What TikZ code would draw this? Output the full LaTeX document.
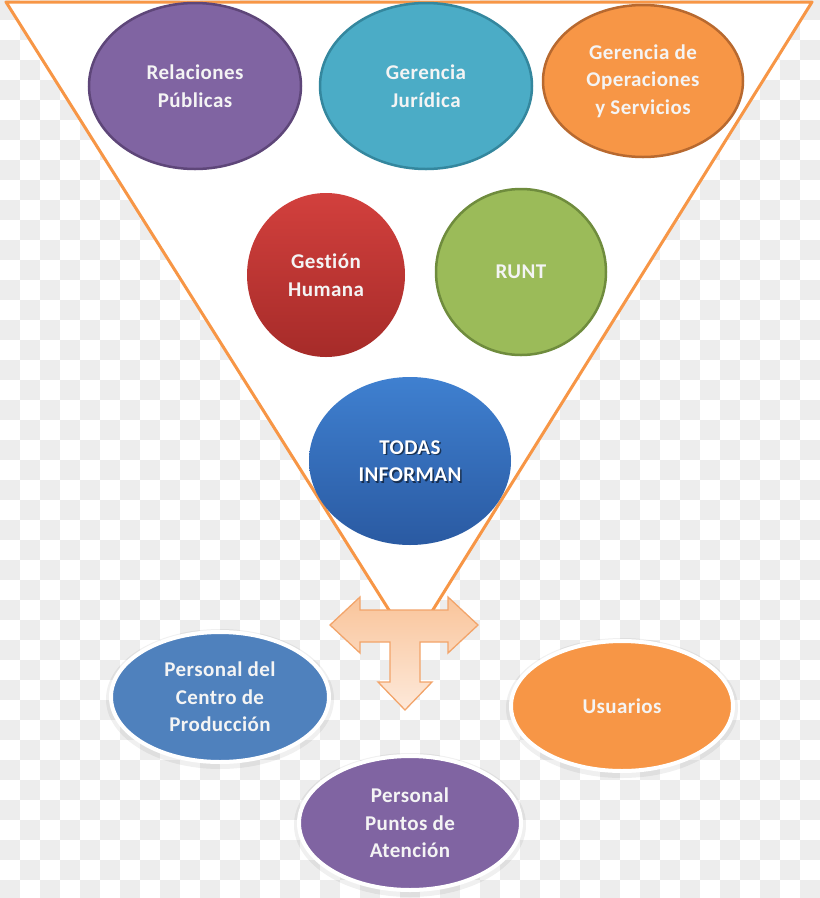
\documentclass[tikz,border=0pt]{standalone}
\usepackage{fontspec}
\setmainfont{Carlito}[Ligatures={NoCommon}]
\usetikzlibrary{shapes.geometric}
\definecolor{checkgray}{HTML}{EDEDED}
\definecolor{triline}{HTML}{F79646}
\definecolor{purp}{HTML}{8064A2}
\definecolor{purpD}{HTML}{5E4679}
\definecolor{teal}{HTML}{4BACC6}
\definecolor{tealD}{HTML}{34879E}
\definecolor{oran}{HTML}{F79646}
\definecolor{oranD}{HTML}{B8692F}
\definecolor{redT}{HTML}{D2403D}
\definecolor{redB}{HTML}{A62B29}
\definecolor{gree}{HTML}{9BBB59}
\definecolor{greeD}{HTML}{6F8C3D}
\definecolor{bluT}{HTML}{3F80D0}
\definecolor{bluB}{HTML}{2A5AA2}
\definecolor{blu}{HTML}{4F81BD}
\definecolor{arrT}{HTML}{F9C49A}
\definecolor{arrB}{HTML}{FDE9DA}
\definecolor{arrD}{HTML}{F2A46A}
\definecolor{txt}{HTML}{F4F4F4}
\newcommand\bubfont{\fontsize{21}{27.5}\selectfont\bfseries\addfontfeatures{LetterSpace=2}}
\tikzset{
  bub/.style={ellipse, inner sep=0pt, align=center, text=txt, font=\bubfont},
  topbub/.style={bub, line width=2.5pt},
  lowbub/.style={bub, draw=white, line width=4pt},
  shade/.style={ellipse, inner sep=0pt, fill=black, opacity=0.06},
  arrowshape/.style={draw=arrD, line width=1.3pt, top color=arrT, bottom color=arrB, line join=miter},
  funnel/.style={draw=triline, line width=3pt, line join=round}
}
\begin{document}
\begin{tikzpicture}[x=1pt,y=-1pt]
\useasboundingbox (0,0) rectangle (820,898);
\clip (0,0) rectangle (820,898);
% checkerboard background
\foreach \j in {0,...,44}{
  \pgfmathtruncatemacro{\s}{mod(\j,2)}
  \foreach \i in {0,2,...,40}{
    \fill[checkgray] ({(\i+\s)*20},{\j*20}) rectangle ++(20,20);
  }
}
% funnel
\coordinate (tl) at (6,2);
\coordinate (tr) at (812,2);
\coordinate (ap) at (411,645);
\fill[white] (tl) -- (tr) -- (ap) -- cycle;
\draw[funnel] (tl) -- (tr) -- (ap) -- cycle;

% top ellipses
\node[topbub, fill=purp, draw=purpD, minimum width=212pt, minimum height=166pt] (rp) at (195,86) {Relaciones\\Públicas};
\node[topbub, fill=teal, draw=tealD, minimum width=212pt, minimum height=166pt] (gj) at (426,86) {Gerencia\\Jurídica};
\node[topbub, fill=oran, draw=oranD, minimum width=200pt, minimum height=152pt] (go) at (643,81) {Gerencia de\\Operaciones\\y Servicios};
\node[bub, top color=redT, bottom color=redB, minimum width=158pt, minimum height=164pt] (gh) at (326,275) {Gestión\\Humana};
\node[topbub, fill=gree, draw=greeD, minimum width=170pt, minimum height=166pt] (runt) at (521,272) {RUNT};
\node[bub, top color=bluT, bottom color=bluB, minimum width=202pt, minimum height=168pt, text=white] (todas) at (410,461) {};
\node[font=\bubfont, align=center, text=black, opacity=0.55] (todassh) at (411.5,462.5) {TODAS\\INFORMAN};
\node[font=\bubfont, align=center, text=white] (todastx) at (410,461) {TODAS\\INFORMAN};

% T arrow
\draw[arrowshape] (330,625) -- (360,597) -- (360,610) -- (448,610) -- (448,597) -- (478,625)
  -- (448,653) -- (448,642) -- (420,642) -- (420,682) -- (432,682) -- (405,710)
  -- (378,682) -- (390,682) -- (390,642) -- (360,642) -- (360,653) -- cycle;

% lower ellipses (soft shadow + white rim)
\node[shade, minimum width=228pt, minimum height=140pt] (shc) at (220,699) {};
\node[shade, minimum width=232pt, minimum height=140pt] (shu) at (622,708) {};
\node[shade, minimum width=232pt, minimum height=144pt] (shp) at (410,825) {};
\node[lowbub, fill=blu, minimum width=218pt, minimum height=130pt] (centro) at (220,697) {Personal del\\Centro de\\Producción};
\node[lowbub, fill=oran, minimum width=222pt, minimum height=130pt] (usu) at (622,706) {Usuarios};
\node[lowbub, fill=purp, minimum width=222pt, minimum height=134pt] (pun) at (410,823) {Personal\\Puntos de\\Atención};
\end{tikzpicture}
\end{document}
